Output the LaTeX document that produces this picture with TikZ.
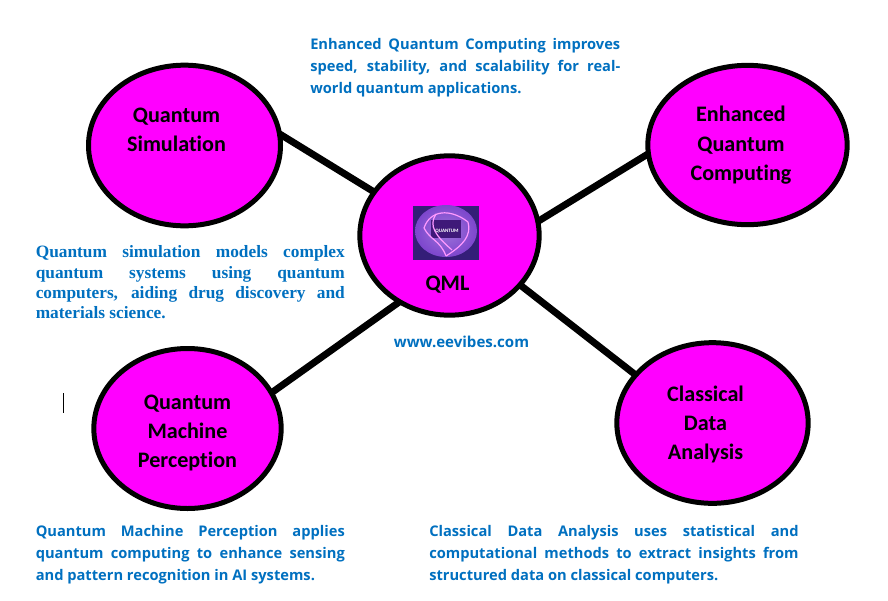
\documentclass[tikz,border=0pt]{standalone}
\usepackage{fontspec}
\setmainfont[Ligatures=NoCommon]{Carlito}
\newfontfamily\serifdesc[Ligatures=NoCommon]{Liberation Serif}
\newfontfamily\sansdesc[Ligatures=NoCommon]{Open Sans}
\definecolor{mag}{RGB}{255,0,255}
\definecolor{descblue}{RGB}{0,112,192}
\definecolor{logobg}{RGB}{52,30,120}
\definecolor{logoball}{RGB}{125,70,205}
\tikzset{
  hub/.style={ellipse,draw=black,line width=3.75pt,fill=mag,inner sep=0pt,outer sep=0pt},
  title/.style={font=\bfseries\fontsize{16.6}{22.1}\selectfont,align=center,text=black},
  link/.style={draw=black,line width=5.2pt},
  desc/.style={text=descblue,inner sep=0pt,anchor=north west,align=justify,font=\sansdesc\bfseries\fontsize{11}{16.5}\selectfont},
  descs/.style={desc,font=\serifdesc\bfseries\fontsize{13}{15.3}\selectfont},
  wisp/.style={draw=mag!40!white,line width=0.9pt},
}
\usetikzlibrary{shapes.geometric}
\begin{document}
\begin{tikzpicture}[x=0.75pt,y=-0.75pt]
\useasboundingbox (0,0) rectangle (888,600);
\fill[white] (0,0) rectangle (888,600);
\node[hub,minimum width=144pt,minimum height=120.5pt] (qs) at (184.5,145.5) {};
\node[hub,minimum width=149.5pt,minimum height=119.5pt] (eqc) at (747.5,145) {};
\node[hub,minimum width=143.5pt,minimum height=120.5pt] (cda) at (712.5,423) {};
\node[hub,minimum width=140.5pt,minimum height=120pt] (qmp) at (187.5,428.5) {};
\node[hub,minimum width=134.5pt,minimum height=119.5pt] (qml) at (449.5,235.5) {};
\draw[link] (qs.7) -- (qml.150);
\draw[link] (eqc.185) -- (qml.9);
\draw[link] (qmp.23) -- (qml.233);
\draw[link] (cda.148) -- (qml.-35);
\node[title] (qst) at (176.5,130) {Quantum\\Simulation};
\node[title] (eqct) at (741,145.5) {Enhanced\\Quantum\\Computing};
\node[title] (cdat) at (705.5,424.5) {Classical\\Data\\Analysis};
\node[title] (qmpt) at (187.5,433) {Quantum\\Machine\\Perception};
\node[title] (qmlt) at (447.5,285) {QML};
% picture inside the central node
\fill[logobg] (413,206) rectangle (479,260);
\shade[inner color=logoball!75!white,outer color=logoball] (446,231) ellipse (31 and 26);
\fill[logobg!85!violet] (431,220) rectangle (461,238);
\draw[wisp] (424,228) .. controls (430,210) and (450,208) .. (468,222);
\draw[wisp] (468,222) .. controls (472,236) and (462,246) .. (446,256);
\draw[wisp] (424,228) .. controls (430,240) and (440,240) .. (446,256);
\draw[wisp] (436,214) .. controls (428,226) and (436,236) .. (452,250);
\node[text=white,font=\bfseries\fontsize{3.8}{4}\selectfont,inner sep=0pt] (qlogo) at (447,231) {QUANTUM};
\node[desc,text width=232.5pt] (d1) at (310,38) {Enhanced Quantum Computing improves\linebreak speed, stability, and scalability for real-\linebreak world quantum applications.};
\node[descs,text width=231.8pt] (d2) at (35.5,245.5) {Quantum simulation models complex\linebreak quantum systems using quantum\linebreak computers, aiding drug discovery and\linebreak materials science.};
\node[desc,text width=231.8pt] (d3) at (35.5,525) {Quantum Machine Perception applies\linebreak quantum computing to enhance sensing\linebreak and pattern recognition in AI systems.};
\node[desc,text width=277pt] (d4) at (429,525) {Classical Data Analysis uses statistical and\linebreak computational methods to extract insights from\linebreak structured data on classical computers.};
\node[text=descblue,inner sep=0pt,font=\sansdesc\bfseries\fontsize{11.3}{13}\selectfont] (url) at (461.5,341.5) {www.eevibes.com};
\draw[black,line width=0.75pt] (63.5,393) -- (63.5,413);
\end{tikzpicture}
\end{document}
